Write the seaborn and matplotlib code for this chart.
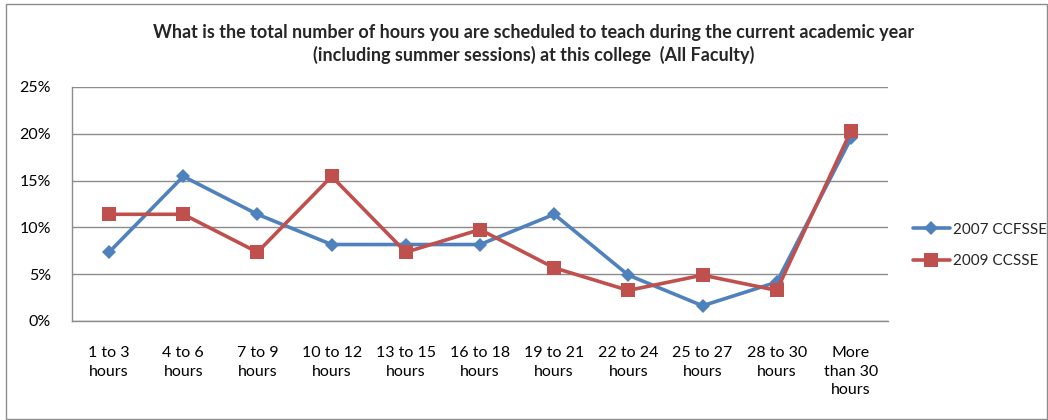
import matplotlib
matplotlib.use("Agg")
import matplotlib.pyplot as plt
import matplotlib.patches as mpatches
import seaborn as sns
import pandas as pd

# Survey response categories and share of faculty (percent)
categories = ["1 to 3\nhours", "4 to 6\nhours", "7 to 9\nhours", "10 to 12\nhours",
              "13 to 15\nhours", "16 to 18\nhours", "19 to 21\nhours", "22 to 24\nhours",
              "25 to 27\nhours", "28 to 30\nhours", "More\nthan 30\nhours"]
ccfsse_2007 = [7.35, 15.45, 11.4, 8.17, 8.17, 8.17, 11.4, 4.9, 1.63, 4.15, 19.5]
ccsse_2009 = [11.4, 11.4, 7.35, 15.45, 7.35, 9.77, 5.68, 3.27, 4.9, 3.27, 20.3]
series_names = ["2007 CCFSSE", "2009 CCSSE"]
y_ticks = [0, 5, 10, 15, 20, 25]

title = ("What is the total number of hours you are scheduled to teach during the current academic year\n"
         "(including summer sessions) at this college  (All Faculty)")

df = pd.DataFrame({
    "category": categories * 2,
    "pos": list(range(len(categories))) * 2,
    "value": ccfsse_2007 + ccsse_2009,
    "series": [series_names[0]] * len(categories) + [series_names[1]] * len(categories),
})

sns.set_theme(style="white")
plt.rcParams["font.family"] = ["Lato", "DejaVu Sans"]

fig = plt.figure(figsize=(10.48, 4.2), dpi=100)
ax = fig.add_axes([72 / 1048, 1 - 321 / 420, (888 - 72) / 1048, (321 - 87) / 420])

palette = {series_names[0]: "#4F81BD", series_names[1]: "#C0504D"}
markers = {series_names[0]: "D", series_names[1]: "s"}
sizes = {series_names[0]: 7, series_names[1]: 9.5}

for name in series_names:
    sub = df[df["series"] == name]
    sns.lineplot(data=sub, x="pos", y="value", ax=ax, color=palette[name],
                 marker=markers[name], markersize=sizes[name], markeredgewidth=0,
                 linewidth=2.6, label=name, sort=False)

ax.set_xlim(-0.5, len(categories) - 0.5)
ax.set_ylim(0, 25)
ax.set_yticks(y_ticks)
ax.set_yticklabels([f"{t}%" for t in y_ticks], fontsize=11.5, color="#000000")
ax.set_xticks(range(len(categories)))
ax.set_xticklabels(categories, fontsize=11.5, color="#000000", linespacing=1.42, va="top")
ax.tick_params(axis="both", length=0)
ax.tick_params(axis="x", pad=18)
ax.tick_params(axis="y", pad=15)
ax.set_xlabel("")
ax.set_ylabel("")
ax.grid(axis="y", color="#8C8C8C", linewidth=1.0)
ax.set_axisbelow(True)
for side in ["top", "right"]:
    ax.spines[side].set_visible(False)
for side in ["left", "bottom"]:
    ax.spines[side].set_color("#8C8C8C")
    ax.spines[side].set_linewidth(1.0)

ax.legend(loc="center left", bbox_to_anchor=(913 / 1048, 1 - 245.5 / 420),
          bbox_transform=fig.transFigure, frameon=False, borderpad=0, borderaxespad=0,
          fontsize=11, handlelength=2.4, labelspacing=1.15, handletextpad=0.25)

fig.text(534 / 1048, 1 - 44 / 420, title, ha="center", va="center",
         fontsize=13, fontweight="bold", linespacing=1.35)

# thin frame around the whole chart area
fig.patches.append(mpatches.Rectangle((6 / 1048, 0.002), 1 - 7 / 1048, 1 - 5 / 420,
                                      transform=fig.transFigure, fill=False,
                                      edgecolor="#8C8C8C", linewidth=1.0))

fig.savefig("out.png", dpi=100)
